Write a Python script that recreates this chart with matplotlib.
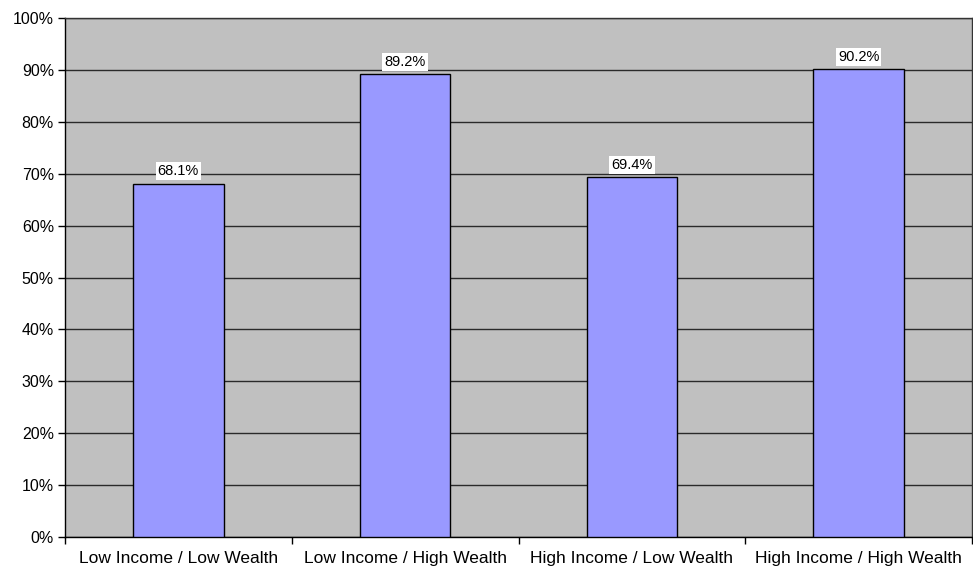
import matplotlib.pyplot as plt
import numpy as np
from matplotlib.ticker import FuncFormatter

plt.rcParams['font.family'] = ['Liberation Sans', 'DejaVu Sans']

# group labels and share of each group
groups = ['Low Income / Low Wealth', 'Low Income / High Wealth',
          'High Income / Low Wealth', 'High Income / High Wealth']
shares = [68.1, 89.2, 69.4, 90.2]

fig = plt.figure(figsize=(9.73, 5.68), dpi=100)
ax = fig.add_axes([65 / 973, 31 / 568, 907 / 973, 519 / 568])
ax.set_facecolor('#C0C0C0')

x = np.arange(len(groups))
ax.bar(x, shares, width=0.4, color='#9999FF', edgecolor='black', linewidth=1, zorder=3)

for xi, v in zip(x, shares):
    ax.text(xi, v + 1.0, f'{v:.1f}%', ha='center', va='bottom', fontsize=10.5,
            bbox=dict(facecolor='white', edgecolor='none', pad=1.5), zorder=4)

ax.set_xlim(-0.5, len(groups) - 0.5)
ax.set_ylim(0, 100)
ax.set_yticks(np.arange(0, 101, 10))
ax.yaxis.set_major_formatter(FuncFormatter(lambda v, p: f'{v:.0f}%'))
ax.yaxis.grid(True, color='#2a2a2a', linewidth=1, zorder=1)
ax.set_axisbelow(True)

# category labels centred, tick marks on the category boundaries
ax.set_xticks(x)
ax.set_xticklabels(groups, fontsize=12.5)
ax.tick_params(axis='x', length=0, pad=10)
ax.set_xticks(np.arange(-0.5, len(groups)), minor=True)
ax.tick_params(axis='x', which='minor', length=5, width=1)
ax.tick_params(axis='y', length=5, width=1, labelsize=11.5, pad=3)

for s in ax.spines.values():
    s.set_color('black')
    s.set_linewidth(1)
ax.spines['right'].set_color('#333333')
ax.spines['top'].set_color('#333333')

fig.savefig('out.png', dpi=100)
